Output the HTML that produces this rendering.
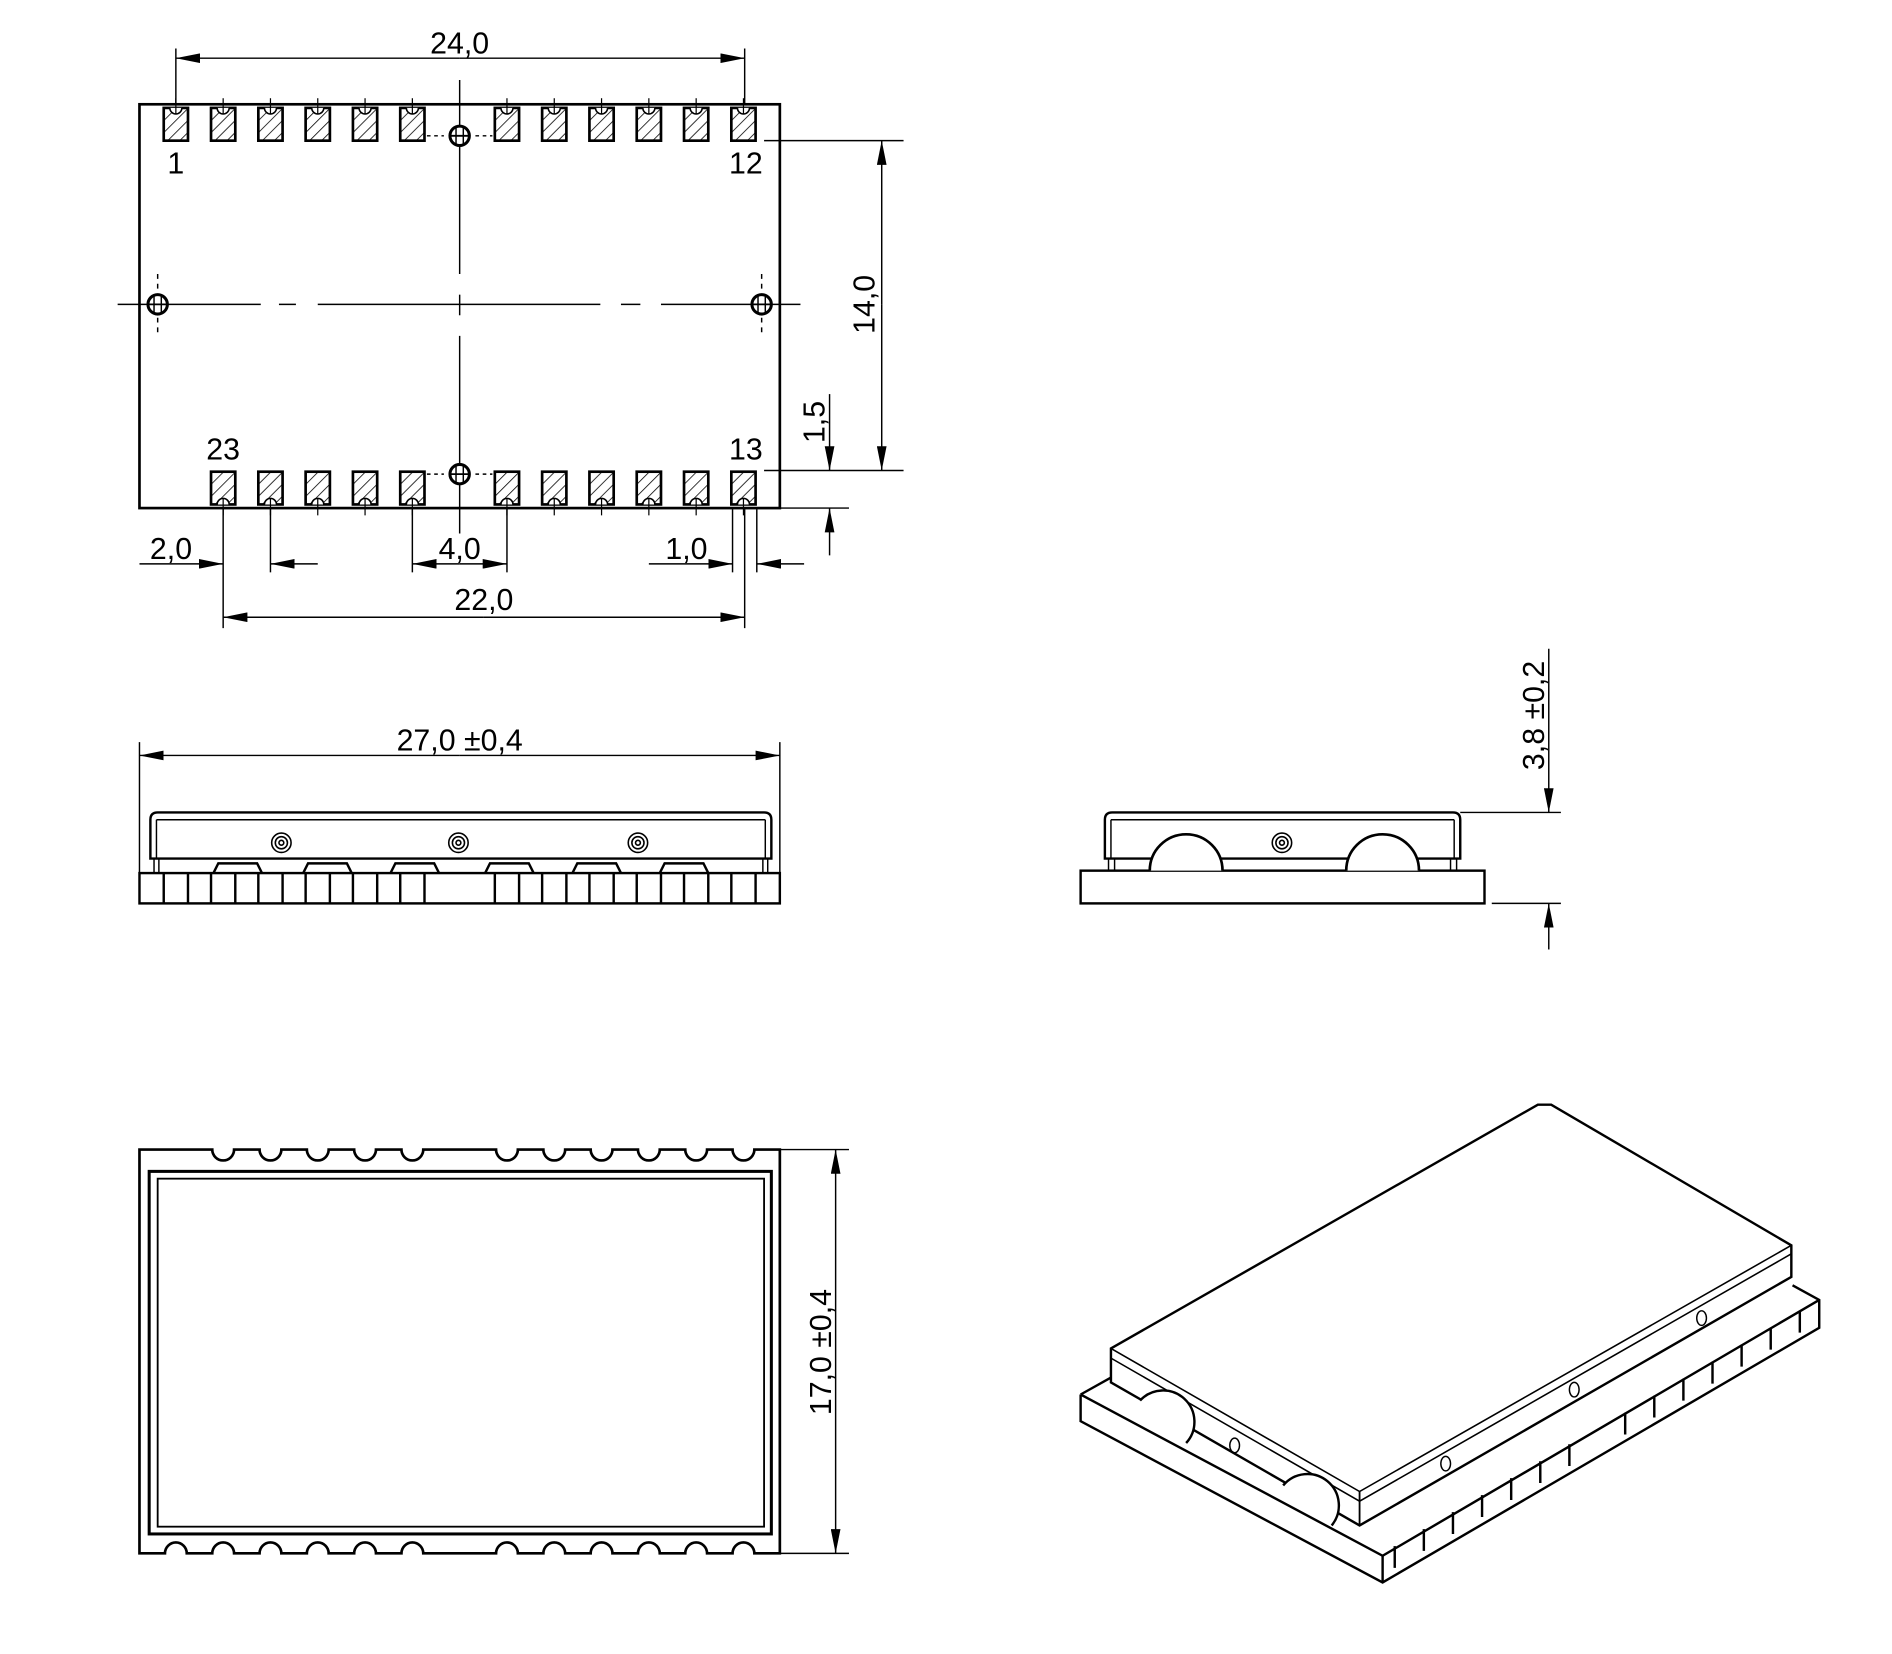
<!DOCTYPE html>
<html><head><meta charset="utf-8"><style>
html,body{margin:0;padding:0;background:#fff;}
svg{display:block;}
text{font-family:"Liberation Sans",sans-serif;font-size:25px;fill:#000;}
</style></head><body>
<svg width="1892" height="1654" viewBox="0 0 1560 1364" preserveAspectRatio="none" xmlns="http://www.w3.org/2000/svg">
<defs>
<pattern id="h" width="7" height="7" patternUnits="userSpaceOnUse" patternTransform="rotate(45)">
<line x1="0" y1="0" x2="0" y2="7" stroke="#000" stroke-width="1.3"/></pattern>
<g id="pt"><rect x="-10" y="0" width="20" height="27" fill="url(#h)" stroke="#000" stroke-width="2.2"/><path d="M-5,0 A5,5 0 0 0 5,0" fill="#fff" stroke="#000" stroke-width="1.3"/><line x1="0" y1="-8" x2="0" y2="5" stroke="#000" stroke-width="1"/></g>
<g id="pb"><rect x="-10" y="0" width="20" height="27" fill="url(#h)" stroke="#000" stroke-width="2.2"/><path d="M-5,27 A5,5 0 0 1 5,27" fill="#fff" stroke="#000" stroke-width="1.3"/><line x1="0" y1="22" x2="0" y2="36" stroke="#000" stroke-width="1"/></g>
<marker id="a" viewBox="0 0 20 8" refX="20" refY="4" markerWidth="20" markerHeight="8" markerUnits="userSpaceOnUse" orient="auto"><path d="M0,0 L20,4 L0,8 z" fill="#000"/></marker>
<g id="hole"><circle r="8" fill="#fff" stroke="#000" stroke-width="2.5"/><line x1="-8" y1="0" x2="8" y2="0" stroke="#000" stroke-width="1.5"/><line x1="-3" y1="-7" x2="-3" y2="7" stroke="#000" stroke-width="1.2"/><line x1="3" y1="-7" x2="3" y2="7" stroke="#000" stroke-width="1.2"/></g>
<g id="scr"><circle r="8" fill="none" stroke="#000" stroke-width="1.3"/><circle r="5" fill="none" stroke="#000" stroke-width="1.3"/><circle r="2" fill="none" stroke="#000" stroke-width="1.3"/></g>
</defs>
<g stroke="#000" fill="none" stroke-width="1.2">
<!-- TOP VIEW -->
<rect x="115" y="86" width="528" height="333" stroke-width="2.2"/>
<line x1="379" y1="66" x2="379" y2="226"/>
<line x1="379" y1="243" x2="379" y2="260"/>
<line x1="379" y1="277" x2="379" y2="440"/>
<line x1="97" y1="251" x2="215" y2="251"/>
<line x1="230" y1="251" x2="244" y2="251"/>
<line x1="262" y1="251" x2="495" y2="251"/>
<line x1="512" y1="251" x2="528" y2="251"/>
<line x1="545" y1="251" x2="660" y2="251"/>
<line x1="130" y1="226" x2="130" y2="240" stroke-dasharray="4,4"/><line x1="130" y1="262" x2="130" y2="278" stroke-dasharray="4,4"/>
<line x1="628" y1="226" x2="628" y2="240" stroke-dasharray="4,4"/><line x1="628" y1="262" x2="628" y2="278" stroke-dasharray="4,4"/>
<line x1="352" y1="112" x2="366" y2="112" stroke-dasharray="3,3"/><line x1="392" y1="112" x2="406" y2="112" stroke-dasharray="3,3"/>
<line x1="352" y1="391" x2="366" y2="391" stroke-dasharray="3,3"/><line x1="392" y1="391" x2="406" y2="391" stroke-dasharray="3,3"/>
<use href="#hole" x="379" y="112"/><use href="#hole" x="379" y="391"/>
<use href="#hole" x="130" y="251"/><use href="#hole" x="628" y="251"/>
<use href="#pt" x="145" y="89"/><use href="#pt" x="184" y="89"/><use href="#pt" x="223" y="89"/><use href="#pt" x="262" y="89"/><use href="#pt" x="301" y="89"/><use href="#pt" x="340" y="89"/>
<use href="#pt" x="418" y="89"/><use href="#pt" x="457" y="89"/><use href="#pt" x="496" y="89"/><use href="#pt" x="535" y="89"/><use href="#pt" x="574" y="89"/><use href="#pt" x="613" y="89"/>
<use href="#pb" x="184" y="389"/><use href="#pb" x="223" y="389"/><use href="#pb" x="262" y="389"/><use href="#pb" x="301" y="389"/><use href="#pb" x="340" y="389"/>
<use href="#pb" x="418" y="389"/><use href="#pb" x="457" y="389"/><use href="#pb" x="496" y="389"/><use href="#pb" x="535" y="389"/><use href="#pb" x="574" y="389"/><use href="#pb" x="613" y="389"/>
<!-- dims top -->
<line x1="145" y1="40" x2="145" y2="86"/><line x1="614" y1="40" x2="614" y2="86"/>
<line x1="379" y1="48" x2="145" y2="48" marker-end="url(#a)"/><line x1="379" y1="48" x2="614" y2="48" marker-end="url(#a)"/>
<line x1="630" y1="116" x2="745" y2="116"/><line x1="630" y1="388" x2="745" y2="388"/><line x1="643" y1="419" x2="700" y2="419"/>
<line x1="727" y1="251" x2="727" y2="116" marker-end="url(#a)"/><line x1="727" y1="251" x2="727" y2="388" marker-end="url(#a)"/>
<line x1="684" y1="325" x2="684" y2="388" marker-end="url(#a)"/><line x1="684" y1="458" x2="684" y2="419" marker-end="url(#a)"/>
<line x1="184" y1="420" x2="184" y2="518"/><line x1="223" y1="420" x2="223" y2="472"/>
<line x1="340" y1="420" x2="340" y2="472"/><line x1="418" y1="420" x2="418" y2="472"/>
<line x1="604" y1="420" x2="604" y2="472"/><line x1="624" y1="420" x2="624" y2="472"/><line x1="614" y1="420" x2="614" y2="518"/>
<line x1="115" y1="465" x2="184" y2="465" marker-end="url(#a)"/><line x1="262" y1="465" x2="223" y2="465" marker-end="url(#a)"/>
<line x1="379" y1="465" x2="340" y2="465" marker-end="url(#a)"/><line x1="379" y1="465" x2="418" y2="465" marker-end="url(#a)"/>
<line x1="535" y1="465" x2="604" y2="465" marker-end="url(#a)"/><line x1="663" y1="465" x2="624" y2="465" marker-end="url(#a)"/>
<line x1="399" y1="509" x2="184" y2="509" marker-end="url(#a)"/><line x1="399" y1="509" x2="614" y2="509" marker-end="url(#a)"/>
<!-- SIDE VIEW -->
<line x1="115" y1="612" x2="115" y2="745"/><line x1="643" y1="612" x2="643" y2="745"/>
<line x1="379" y1="623" x2="115" y2="623" marker-end="url(#a)"/><line x1="379" y1="623" x2="643" y2="623" marker-end="url(#a)"/>
<rect x="115" y="720" width="528" height="25" stroke-width="2"/>
<path d="M124,708 L124,676 Q124,670 130,670 L630,670 Q636,670 636,676 L636,708 Z" stroke-width="2"/>
<line x1="129" y1="676" x2="631" y2="676"/><line x1="129" y1="676" x2="129" y2="708"/><line x1="631" y1="676" x2="631" y2="708"/>
<line x1="127" y1="708" x2="127" y2="720"/><line x1="131" y1="708" x2="131" y2="720"/><line x1="629" y1="708" x2="629" y2="720"/><line x1="633" y1="708" x2="633" y2="720"/>
<path d="M176,720 L180,712 L212,712 L216,720 M250,720 L254,712 L286,712 L290,720 M322,720 L326,712 L358,712 L362,720 M400,720 L404,712 L436,712 L440,720 M472,720 L476,712 L508,712 L512,720 M544,720 L548,712 L580,712 L584,720" stroke-width="2"/>
<path d="M135,720v25M155,720v25M174,720v25M194,720v25M213,720v25M233,720v25M252,720v25M272,720v25M291,720v25M311,720v25M330,720v25M350,720v25M408,720v25M428,720v25M447,720v25M467,720v25M486,720v25M506,720v25M525,720v25M545,720v25M564,720v25M584,720v25M603,720v25M623,720v25" stroke-width="2"/>
<use href="#scr" x="232" y="695"/><use href="#scr" x="378" y="695"/><use href="#scr" x="526" y="695"/>
<!-- RIGHT SIDE VIEW -->
<rect x="891" y="718" width="333" height="27" stroke-width="2"/>
<path d="M911,708 L911,676 Q911,670 917,670 L1198,670 Q1204,670 1204,676 L1204,708 Z" stroke-width="2"/>
<line x1="916" y1="676" x2="1199" y2="676"/><line x1="916" y1="676" x2="916" y2="708"/><line x1="1199" y1="676" x2="1199" y2="708"/>
<line x1="914" y1="708" x2="914" y2="718"/><line x1="919" y1="708" x2="919" y2="718"/><line x1="1196" y1="708" x2="1196" y2="718"/><line x1="1201" y1="708" x2="1201" y2="718"/>
<path d="M948,718 A30,30 0 0 1 1008,718 M1110,718 A30,30 0 0 1 1170,718" stroke-width="2.2" fill="#fff"/>
<use href="#scr" x="1057" y="695"/>
<line x1="1204" y1="670" x2="1287" y2="670"/><line x1="1230" y1="745" x2="1287" y2="745"/>
<line x1="1277" y1="535" x2="1277" y2="670" marker-end="url(#a)"/><line x1="1277" y1="783" x2="1277" y2="745" marker-end="url(#a)"/>
<!-- BOTTOM VIEW -->
<path d="M115,948 H175 A9,9 0 0 0 193,948 H214 A9,9 0 0 0 232,948 H253 A9,9 0 0 0 271,948 H292 A9,9 0 0 0 310,948 H331 A9,9 0 0 0 349,948 H409 A9,9 0 0 0 427,948 H448 A9,9 0 0 0 466,948 H487 A9,9 0 0 0 505,948 H526 A9,9 0 0 0 544,948 H565 A9,9 0 0 0 583,948 H604 A9,9 0 0 0 622,948 H643 V1281 H622 A9,9 0 0 0 604,1281 H583 A9,9 0 0 0 565,1281 H544 A9,9 0 0 0 526,1281 H505 A9,9 0 0 0 487,1281 H466 A9,9 0 0 0 448,1281 H427 A9,9 0 0 0 409,1281 H349 A9,9 0 0 0 331,1281 H310 A9,9 0 0 0 292,1281 H271 A9,9 0 0 0 253,1281 H232 A9,9 0 0 0 214,1281 H193 A9,9 0 0 0 175,1281 H154 A9,9 0 0 0 136,1281 H115 Z" stroke-width="2.2"/>
<rect x="123" y="966" width="513" height="299" stroke-width="2.5"/>
<rect x="130" y="972" width="500" height="287" stroke-width="1.5"/>
<line x1="643" y1="948" x2="700" y2="948"/><line x1="643" y1="1281" x2="700" y2="1281"/>
<line x1="689" y1="1115" x2="689" y2="948" marker-end="url(#a)"/><line x1="689" y1="1115" x2="689" y2="1281" marker-end="url(#a)"/>
<!-- ISO VIEW -->
<path d="M891,1150 L891,1172 L1140,1305 L1500,1095 L1500,1072 L1478,1060" stroke-width="2"/>
<path d="M891,1150 L1140,1283 L1500,1072" stroke-width="2"/>
<line x1="1140" y1="1283" x2="1140" y2="1305" stroke-width="2"/>
<path d="M891,1150 L916,1136" stroke-width="2"/>
<path d="M916,1112 L1268,911 L1279,911 L1477,1027 L1477,1053 L1121,1258 L916,1140 Z" fill="#fff" stroke-width="2"/>
<path d="M916,1120 L1121,1238 L1477,1034" stroke-width="1.3"/>
<path d="M916,1112 L1121,1230 L1477,1027" stroke-width="1.3"/>
<line x1="1121" y1="1230" x2="1121" y2="1258" stroke-width="1.5"/>
<path d="M940,1155 A24,24 0 0 1 978,1190 M1058,1225 A24,24 0 0 1 1098,1258" stroke-width="2" fill="#fff"/>
<path d="M1150,1275 v18 M1174,1261 v18 M1198,1247 v18 M1222,1233 v18 M1246,1219 v18 M1270,1205 v18 M1294,1191 v18 M1340,1165 v18 M1364,1151 v18 M1388,1137 v18 M1412,1123 v18 M1436,1109 v18 M1460,1095 v18 M1484,1081 v18" stroke-width="2"/>
<ellipse cx="1018" cy="1192" rx="4" ry="6"/><ellipse cx="1192" cy="1207" rx="4" ry="6"/><ellipse cx="1298" cy="1146" rx="4" ry="6"/><ellipse cx="1403" cy="1087" rx="4" ry="6"/>
</g>
<text x="379" y="44" text-anchor="middle">24,0</text>
<text x="145" y="143" text-anchor="middle">1</text>
<text x="615" y="143" text-anchor="middle">12</text>
<text x="184" y="379" text-anchor="middle">23</text>
<text x="615" y="379" text-anchor="middle">13</text>
<text x="141" y="461" text-anchor="middle">2,0</text>
<text x="379" y="461" text-anchor="middle">4,0</text>
<text x="566" y="461" text-anchor="middle">1,0</text>
<text x="399" y="503" text-anchor="middle">22,0</text>
<text x="379" y="619" text-anchor="middle">27,0 ±0,4</text>
<text transform="translate(721,251) rotate(-90)" text-anchor="middle">14,0</text>
<text transform="translate(680,348) rotate(-90)" text-anchor="middle">1,5</text>
<text transform="translate(1273,590) rotate(-90)" text-anchor="middle">3,8 ±0,2</text>
<text transform="translate(685,1115) rotate(-90)" text-anchor="middle">17,0 ±0,4</text>
</svg>
</body></html>
